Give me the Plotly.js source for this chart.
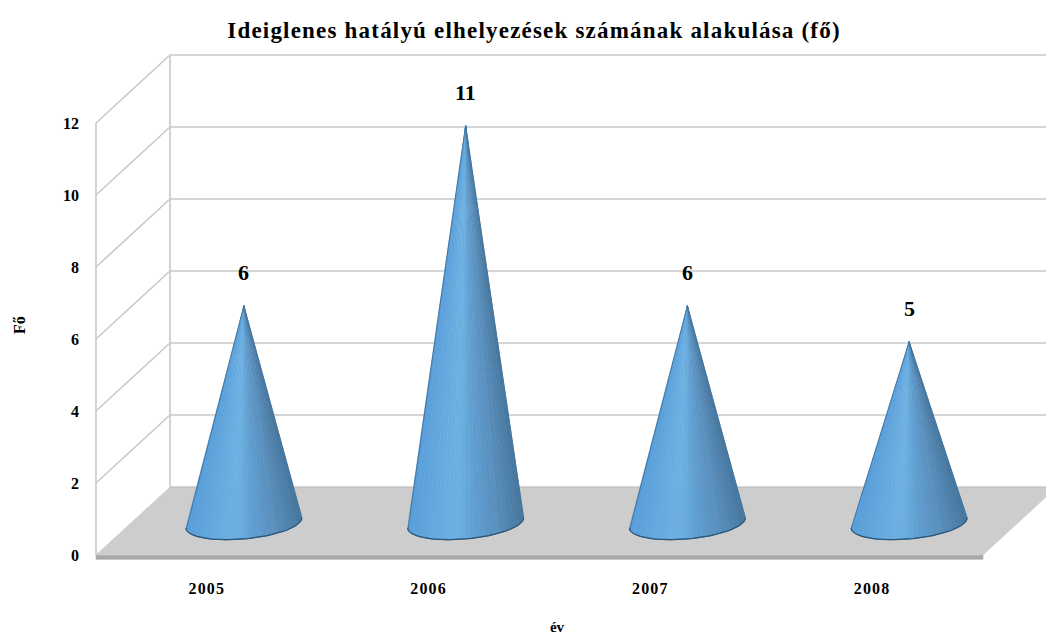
<!DOCTYPE html>
<html>
<head>
<meta charset="utf-8">
<script src="https://cdn.plot.ly/plotly-3.0.1.min.js"></script>
<style>
html,body{margin:0;padding:0;background:#fff;overflow:hidden}
#chart{width:1046px;height:637px}
.xtick text{letter-spacing:1.2px}
.gtitle{letter-spacing:1.2px}
</style>
</head>
<body>
<div id="chart"></div>
<script>
const categories = ['2005','2006','2007','2008'];
const values = [6,11,6,5];
const yTicks = [0,2,4,6,8,10,12];
const chartTitle = 'Ideiglenes hatályú elhelyezések számának alakulása (fő)';
const xTitle = 'év';
const yTitle = 'Fő';
const coneShades = ['#5a9fd9','#5ca1da','#5ea3dc','#60a5dd','#62a7de','#64a9df','#66abe0','#68ade1','#6aaee2','#6cafe2','#6cafe1','#6aacde','#66a7d9','#62a1d3','#5f9dcf','#5e9acb','#5c96c6','#5a92c1','#5b91bf','#568bb8','#5488b3','#4f82ac','#4d7ea7','#4879a1'];

const PXX = 221.75, PXY = 36;          // pixels per axis unit
const depthX = 74/PXX, depthY = 68/PXY; // oblique depth of the floor
const xMin = -0.5, xMax = categories.length - 0.5;
const grey = '#c9c9c9';
const traces = [];
function line(xs, ys, color, width){
  traces.push({type:'scatter',mode:'lines',x:xs,y:ys,hoverinfo:'skip',showlegend:false,
    line:{color:color,width:width}});
}
function poly(xs, ys, color){
  traces.push({type:'scatter',mode:'lines',x:xs,y:ys,fill:'toself',fillcolor:color,hoverinfo:'skip',showlegend:false,
    line:{color:color,width:0.6}});
}
// walls
const yTop = yTicks[yTicks.length-1];
yTicks.forEach(v=>{
  if(v>0) line([xMin,xMin+depthX,xMax+depthX],[v,v+depthY,v+depthY],grey,1.6);
});
line([xMin,xMin],[0,yTop],grey,1.6);
line([xMin+depthX,xMin+depthX],[depthY,yTop+depthY],grey,1.6);
// floor slab
poly([xMin,xMax,xMax,xMin,xMin],[-0.12,-0.12,0.02,0.02,-0.12],'#a9a9a9');
poly([xMin,xMax,xMax+depthX,xMin+depthX,xMin],[0,0,depthY,depthY,0],'#cdcdcd');
line([xMin+depthX,xMax+depthX],[depthY,depthY],'#bdbdbd',1);

// cones
const ax = 58/PXX, ay = 5/PXY, by = 16/PXY, baseY = 0.89;
function edge(cx,t){ return [cx+ax*Math.cos(t), baseY + ay*Math.cos(t) - by*Math.sin(t)]; }
values.forEach((v,i)=>{
  const cx = i + depthX/2, apexY = v + 0.92;
  const n = coneShades.length;
  for(let k=0;k<n;k++){
    const u0=k/n,u1=(k+1)/n,xs=[cx],ys=[apexY];
    for(let s=0;s<=4;s++){
      const u=u0+(u1-u0)*s/4, t=Math.acos(1-2*u);
      const p=edge(cx,Math.PI-t); xs.push(p[0]); ys.push(p[1]);
    }
    xs.push(cx); ys.push(apexY);
    poly(xs,ys,coneShades[k]);
  }
  const ox=[cx],oy=[apexY];
  for(let s=0;s<=60;s++){ const p=edge(cx,Math.PI-Math.PI*s/60); ox.push(p[0]); oy.push(p[1]); }
  ox.push(cx); oy.push(apexY);
  line(ox,oy,'#41739a',0.9);
  const bx=[],bo=[];
  for(let s=0;s<=60;s++){ const p=edge(cx,Math.PI-Math.PI*s/60); bx.push(p[0]); bo.push(p[1]); }
  line(bx,bo,'#2c5677',1.2);
});

const annotations = values.map((v,i)=>({
  x:i+depthX/2, y:v+0.92, xref:'x', yref:'y', text:String(v), showarrow:false, yshift:33, xanchor:'center', yanchor:'middle',
  font:{family:'Liberation Serif',size:22,color:'#000',weight:700}
}));

const plotL = 68, plotR = 1046, plotT = 50, plotB = 600;
const layout = {
  width:1046,height:637,paper_bgcolor:'#fff',plot_bgcolor:'rgba(0,0,0,0)',showlegend:false,
  margin:{l:plotL,r:1046-plotR,t:plotT,b:637-plotB,pad:0},
  annotations,
  title:{text:chartTitle,x:534/1046,xanchor:'center',xref:'container',y:1-30/637,yanchor:'middle',yref:'container',
    font:{family:'Liberation Serif',size:23,color:'#000',weight:700}},
  xaxis:{range:[xMin-(96-plotL)/PXX,xMin+(plotR-96)/PXX],tickmode:'array',tickvals:categories.map((c,i)=>i),ticktext:categories,
    showgrid:false,zeroline:false,showline:false,ticks:'',ticklabelposition:'inside',
    tickfont:{family:'Liberation Serif',size:16,color:'#000',weight:700},
    title:{text:xTitle,standoff:25,font:{family:'Liberation Serif',size:15,color:'#000',weight:700}}},
  yaxis:{range:[(555-plotB)/PXY,(555-plotT)/PXY],tickmode:'array',tickvals:yTicks,ticktext:yTicks.map(String),
    showgrid:false,zeroline:false,showline:false,ticks:'',ticklabelstandoff:-12,
    tickfont:{family:'Liberation Serif',size:16,color:'#000',weight:700},
    title:{text:yTitle,standoff:33,font:{family:'Liberation Serif',size:16,color:'#000',weight:700}}}
};
Plotly.newPlot('chart',traces,layout,{displayModeBar:false,staticPlot:true});
</script>
</body>
</html>
